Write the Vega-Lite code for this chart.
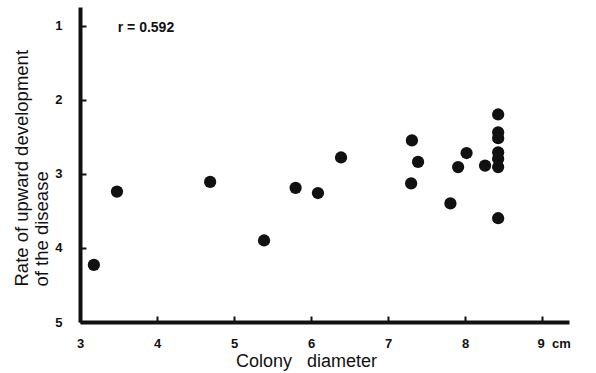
{
  "$schema": "https://vega.github.io/schema/vega-lite/v6.json",
  "width": 489,
  "height": 315,
  "autosize": {"type": "none"},
  "padding": {"left": 80, "top": 7, "right": 27, "bottom": 51},
  "background": "white",
  "config": {"view": {"stroke": null}},
  "datasets": {
    "pts": [
      {"d": 3.18, "r": 4.23},
      {"d": 3.48, "r": 3.24},
      {"d": 4.69, "r": 3.11},
      {"d": 5.39, "r": 3.90},
      {"d": 5.80, "r": 3.19},
      {"d": 6.09, "r": 3.26},
      {"d": 6.39, "r": 2.78},
      {"d": 7.31, "r": 2.55},
      {"d": 7.39, "r": 2.84},
      {"d": 7.30, "r": 3.13},
      {"d": 7.81, "r": 3.40},
      {"d": 7.91, "r": 2.91},
      {"d": 8.02, "r": 2.72},
      {"d": 8.26, "r": 2.89},
      {"d": 8.43, "r": 2.20},
      {"d": 8.43, "r": 2.44},
      {"d": 8.43, "r": 2.52},
      {"d": 8.43, "r": 2.71},
      {"d": 8.43, "r": 2.80},
      {"d": 8.43, "r": 2.91},
      {"d": 8.43, "r": 3.60}
    ],
    "ann": [{"d": 3.49, "r": 1.04, "t": "r\u00a0=\u00a00.592"}]
  },
  "layer": [
    {
      "data": {"name": "pts"},
      "mark": {"type": "circle", "size": 150, "color": "#111111", "opacity": 1},
      "encoding": {
        "x": {
          "field": "d", "type": "quantitative",
          "scale": {"domain": [3, 9.35], "nice": false, "zero": false},
          "axis": {
            "values": [3, 4, 5, 6, 7, 8, 9],
            "format": "d",
            "grid": false,
            "domainColor": "#111111", "domainWidth": 4,
            "tickColor": "#111111", "tickWidth": 2, "tickSize": -6,
            "labelPadding": 21,
            "labelFont": "Liberation Sans", "labelFontWeight": "bold", "labelFontSize": 13, "labelColor": "#111111",
            "labelExpr": "datum.value == 9 ? '9\u00a0\u00a0cm' : datum.label",
            "labelAlign": {"condition": {"test": "datum.value == 9", "value": "left"}, "value": "center"},
            "labelOffset": {"condition": {"test": "datum.value == 9", "value": -5}, "value": 0},
            "labelFlush": false,
            "title": "Colony\u00a0\u00a0\u00a0diameter",
            "titleFont": "Liberation Sans", "titleFontSize": 18, "titleFontWeight": "normal", "titleColor": "#111111",
            "titleX": 226, "titleY": 30, "titleBaseline": "top"
          }
        },
        "y": {
          "field": "r", "type": "quantitative",
          "scale": {"domain": [0.75, 5], "nice": false, "zero": false, "reverse": true},
          "axis": {
            "values": [1, 1.5, 2, 2.5, 3, 3.5, 4, 4.5, 5],
            "format": "d",
            "grid": false,
            "domainColor": "#111111", "domainWidth": 4,
            "tickColor": "#111111", "tickWidth": 2, "tickSize": -6,
            "labelPadding": 24,
            "labelFont": "Liberation Sans", "labelFontWeight": "bold", "labelFontSize": 13, "labelColor": "#111111",
            "labelExpr": "datum.value % 1 === 0 ? datum.label : ''",
            "title": ["Rate of upward development", "of the disease"],
            "titleFont": "Liberation Sans", "titleFontSize": 18.5, "titleFontWeight": "normal", "titleColor": "#111111",
            "titleAngle": -90, "titleAlign": "left", "titleBaseline": "alphabetic", "titleLineHeight": 20,
            "titleX": -53, "titleY": 279
          }
        }
      }
    },
    {
      "data": {"name": "ann"},
      "mark": {"type": "text", "align": "left", "baseline": "middle", "font": "Liberation Sans", "fontWeight": "bold", "fontSize": 14, "color": "#111111"},
      "encoding": {
        "x": {"field": "d", "type": "quantitative"},
        "y": {"field": "r", "type": "quantitative"},
        "text": {"field": "t"}
      }
    }
  ]
}
